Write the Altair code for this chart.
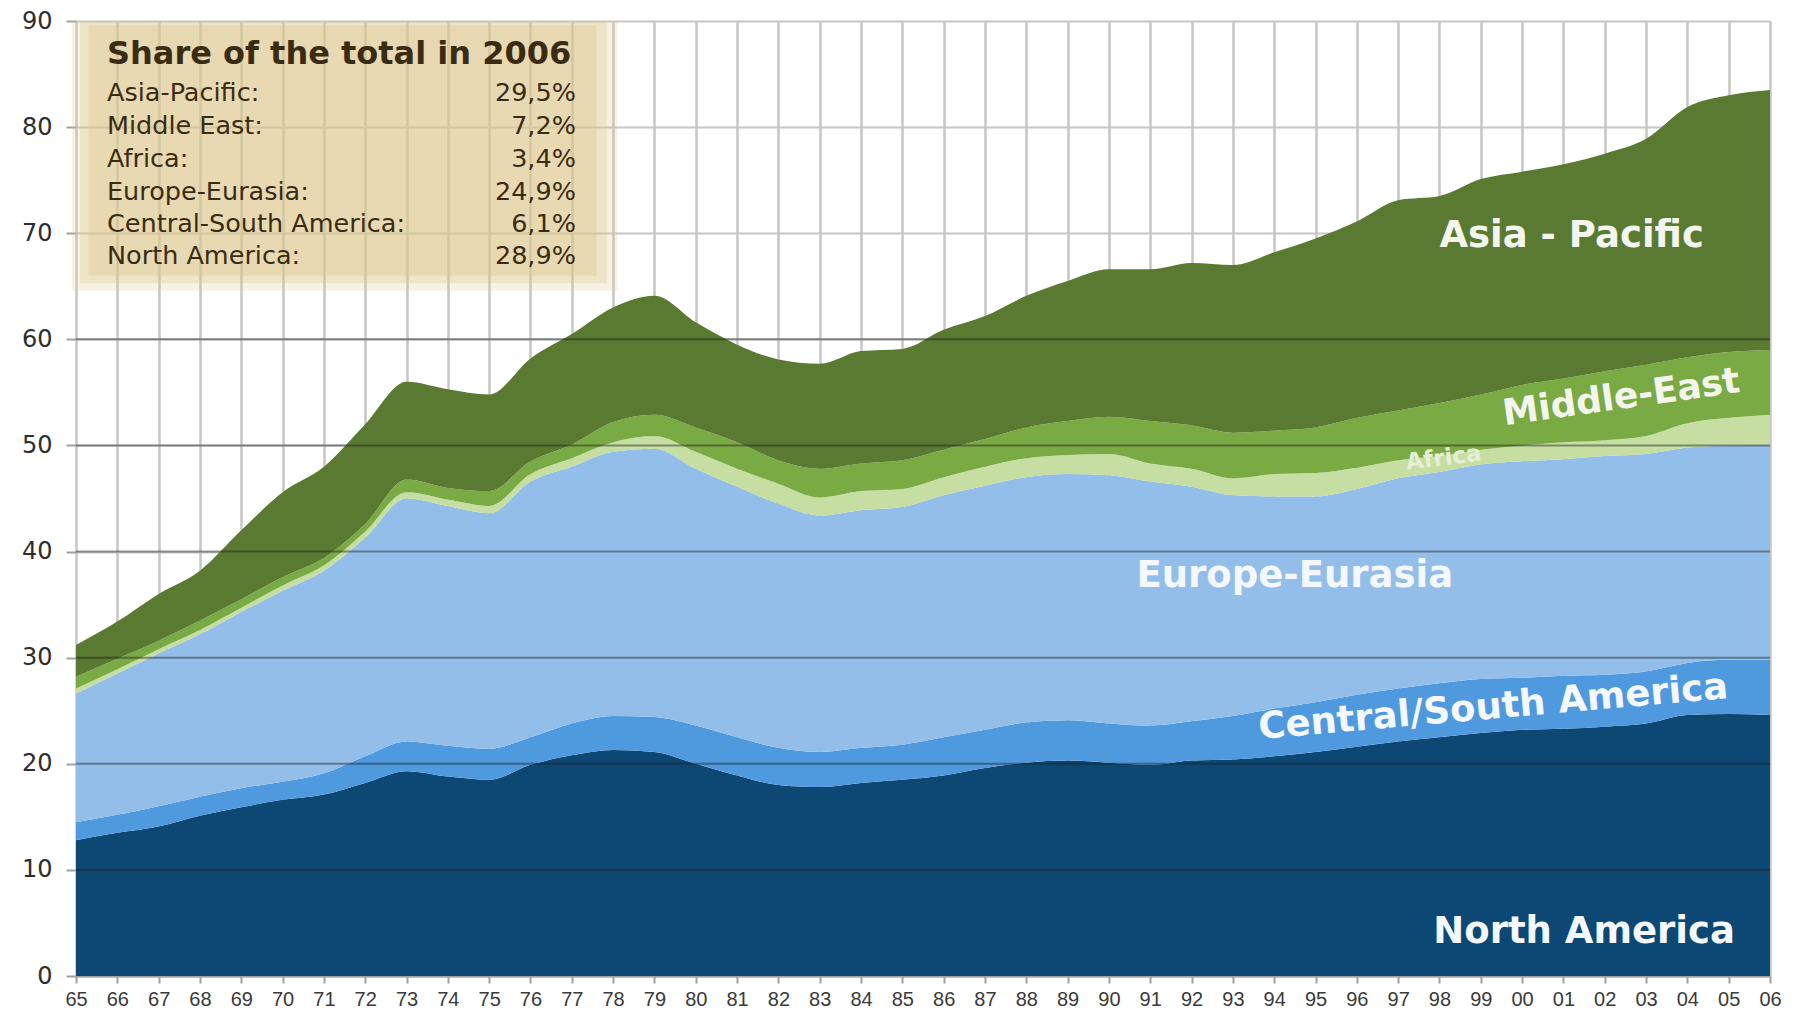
import altair as alt
import pandas as pd

years = list(range(1965, 2007))

# Consumption by region (stacked bottom to top)
north_america = [12.8, 13.5, 14.1, 15.1, 15.9, 16.6, 17.1, 18.2, 19.3, 18.8,
                 18.5, 19.9, 20.8, 21.3, 21.1, 20.0, 18.9, 18.0, 17.8, 18.2,
                 18.5, 18.9, 19.6, 20.1, 20.3, 20.1, 19.9, 20.3, 20.4, 20.7,
                 21.1, 21.6, 22.1, 22.5, 22.9, 23.2, 23.3, 23.5, 23.8, 24.6,
                 24.7, 24.6]
central_south_america = [1.7, 1.7, 1.9, 1.8, 1.8, 1.7, 2.0, 2.5, 2.8, 2.9,
                         2.9, 2.6, 3.0, 3.2, 3.3, 3.6, 3.6, 3.5, 3.3, 3.3,
                         3.3, 3.6, 3.6, 3.8, 3.8, 3.7, 3.7, 3.7, 4.1, 4.5,
                         4.7, 4.9, 5.0, 5.1, 5.1, 4.9, 5.0, 4.9, 4.9, 4.9,
                         5.1, 5.2]
europe_eurasia = [12.1, 13.3, 14.4, 15.3, 16.6, 18.0, 19.1, 20.6, 22.9, 22.6,
                  22.2, 24.1, 24.2, 24.9, 25.3, 24.2, 23.6, 23.0, 22.3, 22.4,
                  22.4, 22.8, 23.0, 23.1, 23.2, 23.4, 23.0, 22.1, 20.8, 20.0,
                  19.4, 19.4, 19.8, 19.9, 20.2, 20.4, 20.4, 20.6, 20.5, 20.3,
                  20.2, 20.3]
africa = [0.5, 0.4, 0.4, 0.4, 0.4, 0.5, 0.5, 0.6, 0.6, 0.6,
          0.7, 0.7, 0.8, 0.9, 1.2, 1.6, 1.7, 1.9, 1.7, 1.8,
          1.7, 1.7, 1.8, 1.8, 1.8, 2.0, 1.7, 1.7, 1.6, 2.1,
          2.2, 2.0, 1.7, 1.5, 1.4, 1.5, 1.6, 1.5, 1.7, 2.3,
          2.6, 2.8]
middle_east = [1.1, 1.0, 0.8, 0.9, 0.8, 0.8, 0.7, 0.7, 1.2, 1.1,
               1.4, 1.2, 1.3, 1.9, 2.0, 2.3, 2.5, 2.2, 2.7, 2.6,
               2.7, 2.6, 2.6, 2.9, 3.2, 3.5, 4.0, 4.1, 4.3, 4.1,
               4.3, 4.7, 4.7, 5.0, 5.2, 5.7, 6.0, 6.5, 6.7, 6.2,
               6.2, 6.1]
asia_pacific = [3.0, 3.5, 4.4, 4.7, 6.5, 8.0, 8.6, 9.4, 9.2, 9.3,
                9.1, 9.7, 10.4, 10.8, 11.2, 9.9, 9.2, 9.5, 9.9, 10.6,
                10.5, 11.3, 11.6, 12.4, 13.2, 13.9, 14.3, 15.3, 15.8, 16.8,
                17.8, 18.5, 19.8, 19.5, 20.3, 20.1, 20.2, 20.5, 21.3, 23.6,
                24.2, 24.5]

regions = ["North America", "Central/South America", "Europe-Eurasia",
           "Africa", "Middle East", "Asia-Pacific"]
series = [north_america, central_south_america, europe_eurasia,
          africa, middle_east, asia_pacific]
colors = ["#0c4873", "#4f9ade", "#93bee9", "#c6dea2", "#7aaa44", "#5a7931"]

# Box: share of the total in 2006
share_labels = ["Asia-Pacific:", "Middle East:", "Africa:", "Europe-Eurasia:",
                "Central-South America:", "North America:"]
share_values = ["29,5%", "7,2%", "3,4%", "24,9%", "6,1%", "28,9%"]
share_title = "Share of the total in 2006"

# In-chart region labels
area_labels = ["Asia - Pacific", "Middle-East", "Africa", "Europe-Eurasia",
               "Central/South America", "North America"]

rows = []
for rank, (name, vals) in enumerate(zip(regions, series)):
    for y, v in zip(years, vals):
        rows.append({"year": y, "region": name, "value": v, "rank": rank})
df = pd.DataFrame(rows)

W, H = 1694, 955

x_scale = alt.Scale(domain=[1965, 2006], nice=False, zero=False)
y_scale = alt.Scale(domain=[0, 90], nice=False)

areas = alt.Chart(df).mark_area(interpolate="monotone").encode(
    x=alt.X("year:Q", scale=x_scale, title=None,
            axis=alt.Axis(values=years,
                          labelExpr="substring(toString(datum.value), 2, 4)",
                          grid=True, gridColor="#c6c6c6", gridWidth=2.5,
                          domainColor="#a0a0a0", domainWidth=2,
                          tickColor="#a0a0a0", tickSize=7, tickWidth=2,
                          labelFont="Liberation Sans Narrow, Arial Narrow, Liberation Sans",
                          labelFontSize=20, labelColor="#3a3a3a",
                          labelPadding=6, labelFlush=False)),
    y=alt.Y("value:Q", stack="zero", scale=y_scale, title=None,
            axis=alt.Axis(values=list(range(0, 100, 10)), grid=True,
                          gridColor="#c6c6c6", gridWidth=2, domain=False,
                          tickColor="#a0a0a0", tickSize=10, tickWidth=2,
                          labelFont="DejaVu Sans", labelFontSize=24,
                          labelColor="#2e2e2e", labelPadding=14)),
    color=alt.Color("region:N", scale=alt.Scale(domain=regions, range=colors),
                    legend=None),
    order=alt.Order("rank:Q"),
)

grid_levels = [10, 20, 30, 40, 50, 60]
dark_grid = alt.Chart(pd.DataFrame({"level": grid_levels})).mark_rule(
    color="#1e1e1e", opacity=0.45, strokeWidth=2
).encode(y=alt.Y("level:Q", scale=y_scale))

# Share box, with soft edges
box_df = pd.DataFrame([
    {"x": 1964.9, "x2": 1978.1, "y": 64.6, "y2": 90.0, "o": 0.25},
    {"x": 1965.1, "x2": 1977.85, "y": 65.3, "y2": 90.0, "o": 0.3},
    {"x": 1965.3, "x2": 1977.6, "y": 66.0, "y2": 89.6, "o": 0.35},
])
box = alt.Chart(box_df).mark_rect(color="#dcc68a").encode(
    x=alt.X("x:Q", scale=x_scale), x2="x2:Q",
    y=alt.Y("y:Q", scale=y_scale), y2="y2:Q",
    opacity=alt.Opacity("o:Q", scale=None),
)

text_color = "#3a2c12"
title_df = pd.DataFrame([{"t": share_title, "x": 1965.75, "y": 86.9}])
title_text = alt.Chart(title_df).mark_text(
    align="left", baseline="middle", font="DejaVu Sans", fontWeight="bold",
    fontSize=32, color=text_color
).encode(x=alt.X("x:Q", scale=x_scale), y=alt.Y("y:Q", scale=y_scale), text="t:N")

row_y = [83.2, 80.1, 77.0, 73.9, 70.9, 67.9]
rows_df = pd.DataFrame({"name": share_labels, "val": share_values, "y": row_y})
row_names = alt.Chart(rows_df).mark_text(
    align="left", baseline="middle", font="DejaVu Sans", fontSize=25.5,
    color=text_color
).encode(x=alt.datum(1965.75, scale=x_scale), y=alt.Y("y:Q", scale=y_scale), text="name:N")
row_vals = alt.Chart(rows_df).mark_text(
    align="right", baseline="middle", font="DejaVu Sans", fontSize=25.5,
    color=text_color
).encode(x=alt.datum(1977.1, scale=x_scale), y=alt.Y("y:Q", scale=y_scale), text="val:N")

label_pos = [
    (2001.2, 69.7, 0, 37, "#f4f6ee"),
    (2002.4, 54.5, 352, 36, "#f4f6ee"),
    (1998.1, 48.8, 353, 23, "#e6efd6"),
    (1994.5, 37.7, 0, 37, "#f4f8fc"),
    (1999.3, 25.3, 355, 37, "#f4f8fc"),
    (2001.5, 4.1, 0, 37, "#f4f8fc"),
]
label_layers = []
for txt, (lx, ly, ang, sz, col) in zip(area_labels, label_pos):
    ldf = pd.DataFrame([{"t": txt, "x": lx, "y": ly}])
    label_layers.append(
        alt.Chart(ldf).mark_text(
            align="center", baseline="middle", font="DejaVu Sans",
            fontWeight="bold", fontSize=sz, color=col, angle=ang
        ).encode(x=alt.X("x:Q", scale=x_scale), y=alt.Y("y:Q", scale=y_scale), text="t:N")
    )

chart = alt.layer(areas, dark_grid, box, title_text, row_names, row_vals,
                  *label_layers).properties(
    width=W, height=H,
    autosize=alt.AutoSizeParams(type="none"),
    padding={"left": 68, "top": 13, "right": 14, "bottom": 34},
).configure_view(stroke=None).configure(background="white")

chart.save("out.html", embed_options={"renderer": "svg", "actions": False})
